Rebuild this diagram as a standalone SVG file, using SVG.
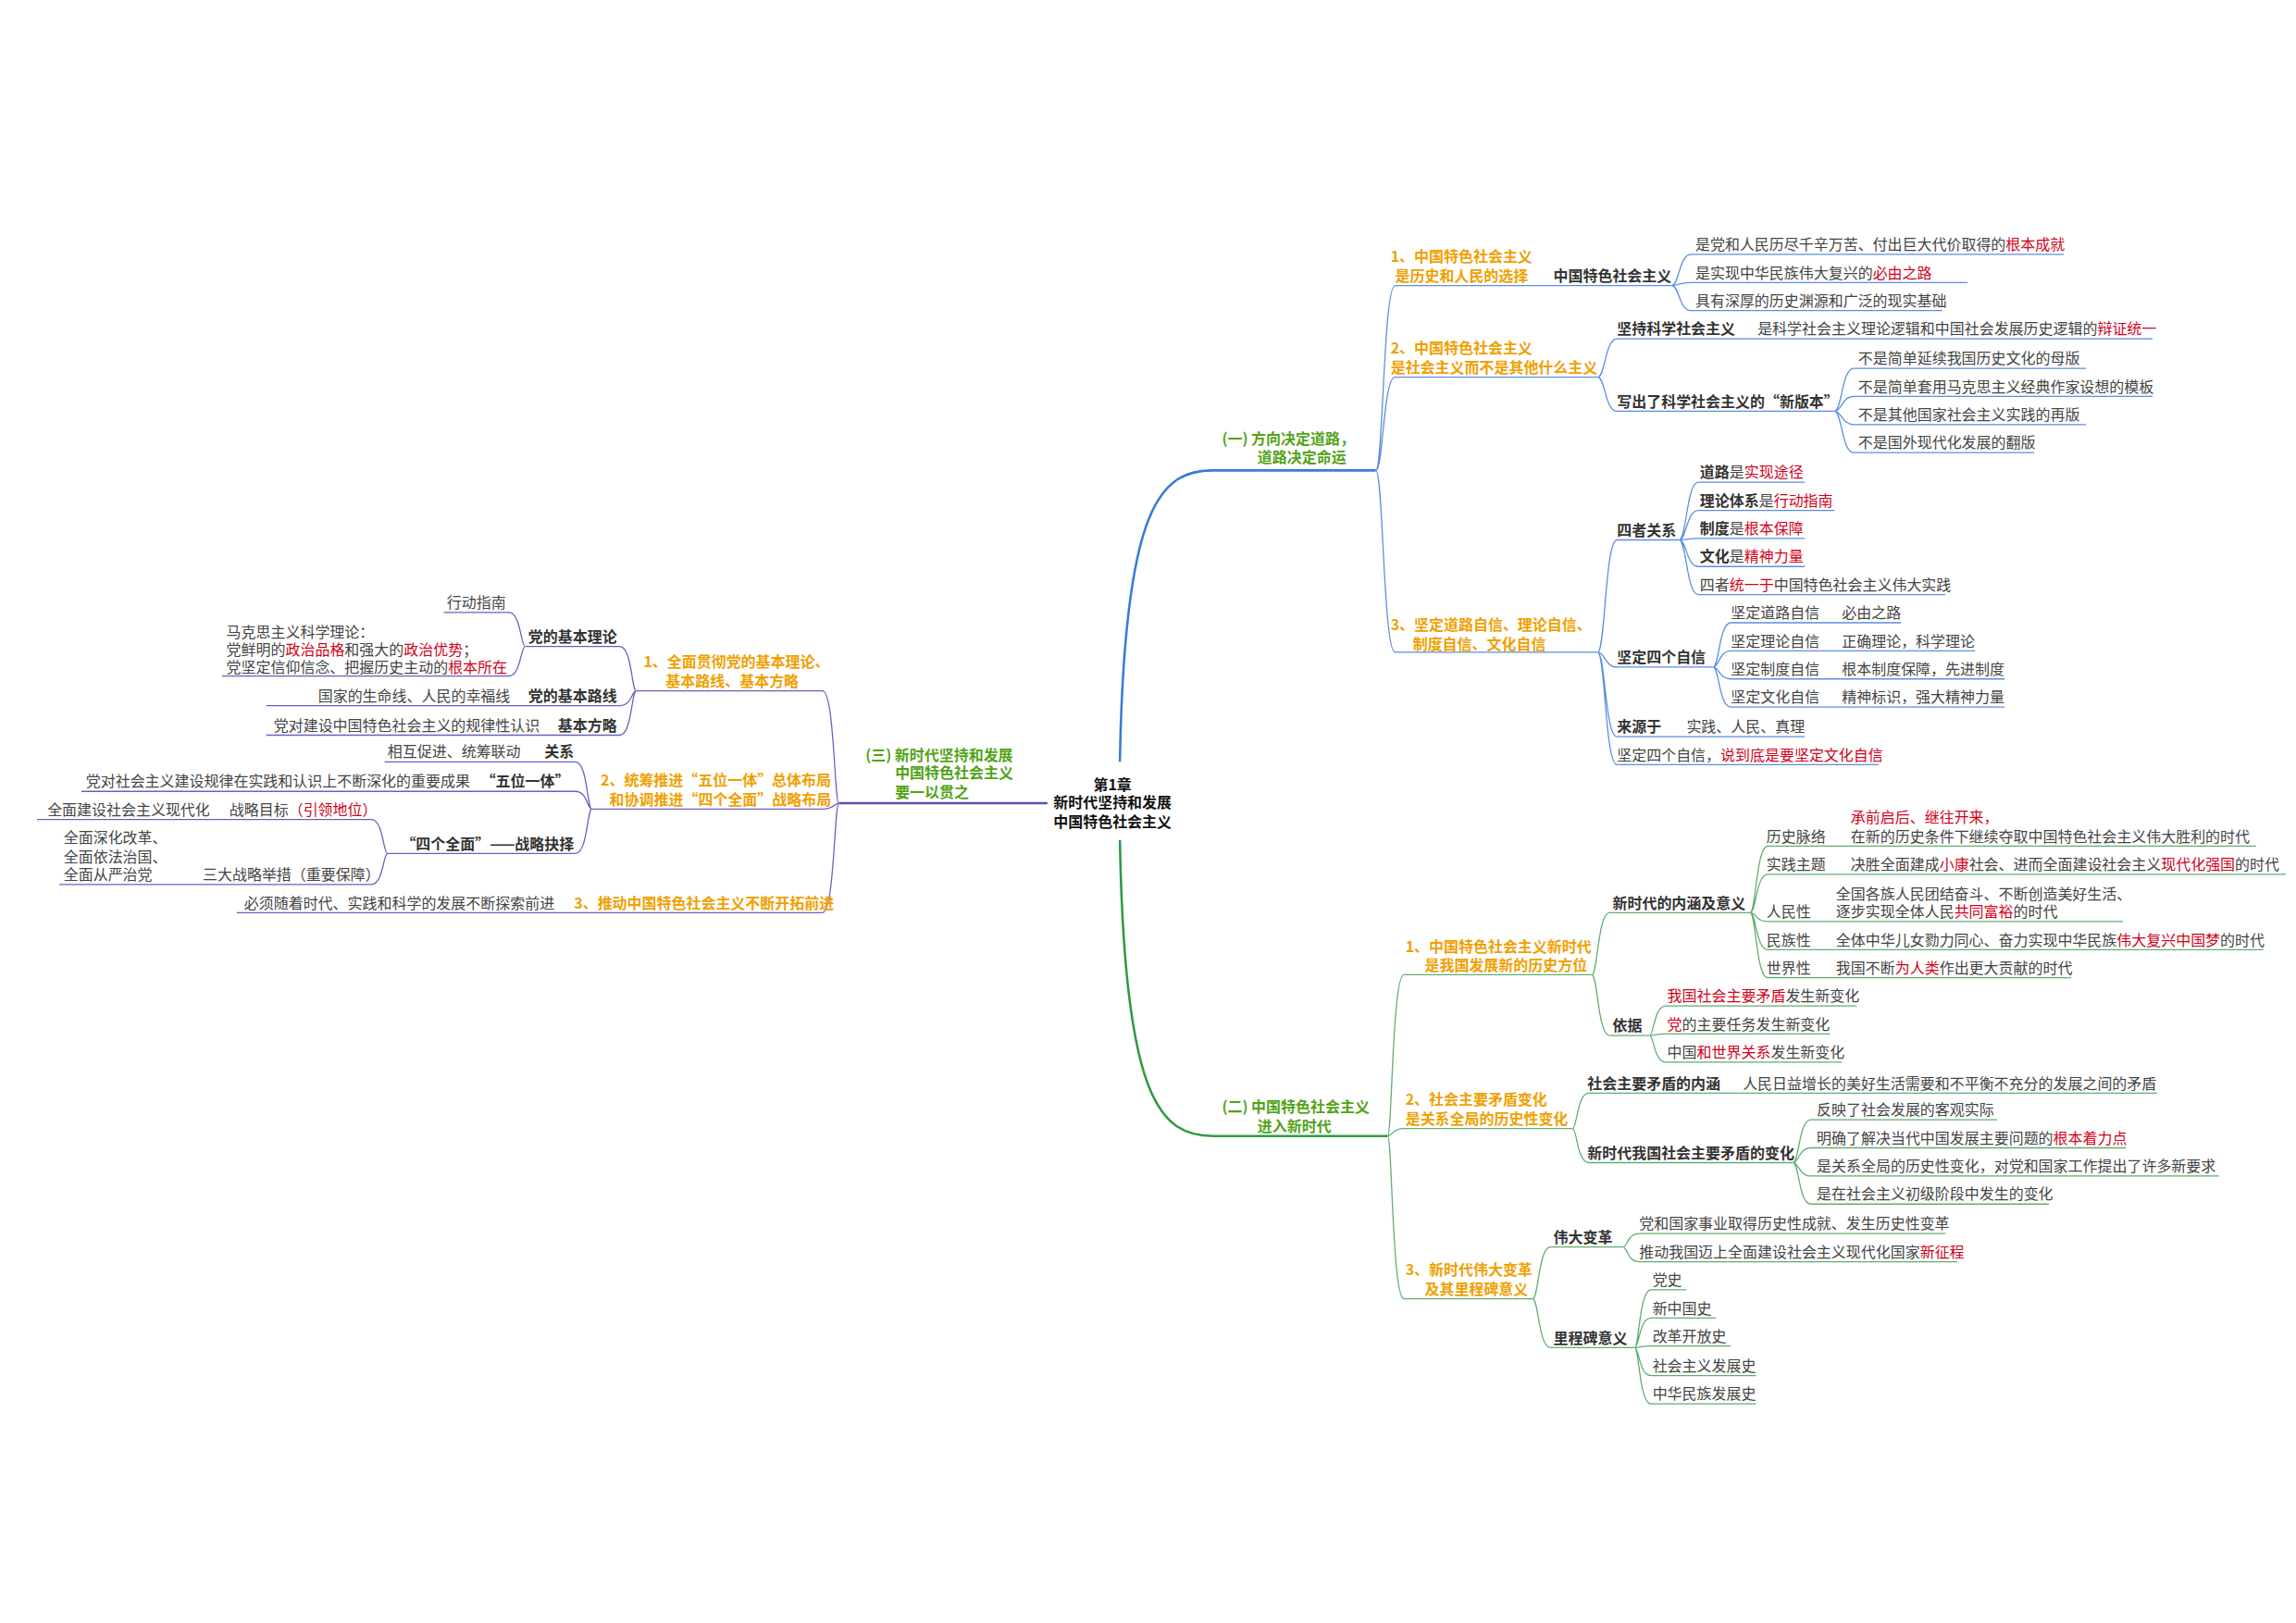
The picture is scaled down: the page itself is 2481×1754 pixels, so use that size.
<svg xmlns="http://www.w3.org/2000/svg" width="2481" height="1754" viewBox="0 0 2481 1754">
<style>
text{font-family:"Noto Sans CJK SC","Noto Sans",sans-serif;font-size:10px;fill:#444}
.b{font-weight:bold;fill:#333}
.o{font-weight:bold;fill:#f0a000}
.g{font-weight:bold;fill:#52a317}
.r{fill:#d0021b}
.c{font-weight:bold;fill:#111}
path{fill:none}
.m1{stroke:#3a7bd5;stroke-width:1.6}
.m2{stroke:#2f9a45;stroke-width:1.6}
.m3{stroke:#5b4fb5;stroke-width:1.6}
.l1{stroke:#5b8fe0;stroke-width:0.8}
.l2{stroke:#5fae72;stroke-width:0.8}
.l3{stroke:#6a5fc0;stroke-width:0.8}
</style>
<rect width="2481" height="1754" fill="#fff"/>
<g transform="scale(1.5986)">
<g id="connectors">
<path class="m1" d="M757,515C760,340 785,318 820,318H930"/>
<path class="m2" d="M757,568C760,745 785,768 820,768H938"/>
<path class="m3" d="M708,543H567"/>
<path class="l1" d="M930,318C935,318 935,193 943,193H1130M930,318C935,318 935,255 943,255H1080M930,318C935,318 935,441 943,441H1080"/>
<path class="l1" d="M1130,193C1135,193 1135,172 1143,172H1395M1130,193C1135,193 1135,191 1143,191H1330M1130,193C1135,193 1135,210 1143,210H1313"/>
<path class="l1" d="M1080,255C1085,255 1085,229 1093,229H1455M1080,255C1085,255 1085,278 1093,278H1240"/>
<path class="l1" d="M1240,278C1245,278 1245,249 1253,249H1410M1240,278C1245,278 1245,268 1253,268H1455M1240,278C1245,278 1245,287 1253,287H1410M1240,278C1245,278 1245,306 1253,306H1375"/>
<path class="l1" d="M1080,441C1085,441 1085,365 1093,365H1135M1080,441C1085,441 1085,451 1093,451H1158M1080,441C1085,441 1085,498 1093,498H1220M1080,441C1085,441 1085,517 1093,517H1270"/>
<path class="l1" d="M1135,365C1140,365 1140,326 1148,326H1220M1135,365C1140,365 1140,345 1148,345H1240M1135,365C1140,365 1140,364 1148,364H1220M1135,365C1140,365 1140,383 1148,383H1220M1135,365C1140,365 1140,402 1148,402H1315"/>
<path class="l1" d="M1158,451C1162,451 1162,421 1170,421H1285M1158,451C1162,451 1162,440 1170,440H1335M1158,451C1162,451 1162,459 1170,459H1355M1158,451C1162,451 1162,478 1170,478H1355"/>
<path class="l2" d="M938,768C941,768 941,659 949,659H1076M938,768C941,768 941,763 949,763H1063M938,768C941,768 941,878 949,878H1036"/>
<path class="l2" d="M1076,659C1080,659 1080,617 1088,617H1183M1076,659C1080,659 1080,700 1088,700H1115"/>
<path class="l2" d="M1183,617C1187,617 1187,572 1195,572H1525M1183,617C1187,617 1187,591 1195,591H1545M1183,617C1187,617 1187,623 1195,623H1435M1183,617C1187,617 1187,642 1195,642H1530M1183,617C1187,617 1187,661 1195,661H1400"/>
<path class="l2" d="M1115,700C1118,700 1118,680 1126,680H1255M1115,700C1118,700 1118,699 1126,699H1237M1115,700C1118,700 1118,718 1126,718H1245"/>
<path class="l2" d="M1063,763C1066,763 1066,739 1074,739H1458M1063,763C1066,763 1066,786 1074,786H1212"/>
<path class="l2" d="M1212,786C1216,786 1216,757 1224,757H1350M1212,786C1216,786 1216,776 1224,776H1437M1212,786C1216,786 1216,795 1224,795H1500M1212,786C1216,786 1216,814 1224,814H1385"/>
<path class="l2" d="M1036,878C1040,878 1040,843 1048,843H1097M1036,878C1040,878 1040,911 1048,911H1105"/>
<path class="l2" d="M1097,843C1100,843 1100,834 1108,834H1315M1097,843C1100,843 1100,853 1108,853H1323"/>
<path class="l2" d="M1105,911C1108,911 1108,872 1116,872H1140M1105,911C1108,911 1108,891 1116,891H1160M1105,911C1108,911 1108,910 1116,910H1170M1105,911C1108,911 1108,930 1116,930H1187M1105,911C1108,911 1108,949 1116,949H1187"/>
<path class="l3" d="M567,543C564,543 564,467 556,467H430M567,543C564,543 564,547 556,547H400M567,543C564,543 564,617 556,617H160"/>
<path class="l3" d="M430,467C427,467 427,437 419,437H355M430,467C427,467 427,477 419,477H180M430,467C427,467 427,497 419,497H180"/>
<path class="l3" d="M355,437C352,437 352,414 344,414H300M355,437C352,437 352,457 344,457H150"/>
<path class="l3" d="M400,547C397,547 397,515 389,515H260M400,547C397,547 397,535 389,535H55M400,547C397,547 397,577 389,577H262"/>
<path class="l3" d="M262,577C259,577 259,554 251,554H25M262,577C259,577 259,598 251,598H40"/>
</g>
<g id="center"><text class="c" x="752" y="534" text-anchor="middle">第1章</text><text class="c" x="752" y="546" text-anchor="middle">新时代坚持和发展</text><text class="c" x="752" y="559" text-anchor="middle">中国特色社会主义</text></g>
<g id="s1">
<text class="g" x="826" y="300">(一) 方向决定道路，</text><text class="g" x="850" y="313">道路决定命运</text>
<text class="o" x="940" y="177">1、中国特色社会主义</text><text class="o" x="943" y="190">是历史和人民的选择</text>
<text class="b" x="1050" y="190">中国特色社会主义</text>
<text x="1146" y="169">是党和人民历尽千辛万苦、付出巨大代价取得的<tspan class="r">根本成就</tspan></text>
<text x="1146" y="188">是实现中华民族伟大复兴的<tspan class="r">必由之路</tspan></text>
<text x="1146" y="207">具有深厚的历史渊源和广泛的现实基础</text>
<text class="o" x="940" y="239">2、中国特色社会主义</text><text class="o" x="940" y="252">是社会主义而不是其他什么主义</text>
<text class="b" x="1093" y="226">坚持科学社会主义</text>
<text x="1188" y="226">是科学社会主义理论逻辑和中国社会发展历史逻辑的<tspan class="r">辩证统一</tspan></text>
<text class="b" x="1093" y="275">写出了科学社会主义的“新版本”</text>
<text x="1256" y="246">不是简单延续我国历史文化的母版</text>
<text x="1256" y="265">不是简单套用马克思主义经典作家设想的模板</text>
<text x="1256" y="284">不是其他国家社会主义实践的再版</text>
<text x="1256" y="303">不是国外现代化发展的翻版</text>
<text class="o" x="940" y="426">3、坚定道路自信、理论自信、</text><text class="o" x="955" y="439">制度自信、文化自信</text>
<text class="b" x="1093" y="362">四者关系</text>
<text x="1149" y="323"><tspan class="b">道路</tspan>是<tspan class="r">实现途径</tspan></text>
<text x="1149" y="342"><tspan class="b">理论体系</tspan>是<tspan class="r">行动指南</tspan></text>
<text x="1149" y="361"><tspan class="b">制度</tspan>是<tspan class="r">根本保障</tspan></text>
<text x="1149" y="380"><tspan class="b">文化</tspan>是<tspan class="r">精神力量</tspan></text>
<text x="1149" y="399">四者<tspan class="r">统一于</tspan>中国特色社会主义伟大实践</text>
<text class="b" x="1093" y="448">坚定四个自信</text>
<text x="1170" y="418">坚定道路自信</text><text x="1245" y="418">必由之路</text>
<text x="1170" y="437">坚定理论自信</text><text x="1245" y="437">正确理论，科学理论</text>
<text x="1170" y="456">坚定制度自信</text><text x="1245" y="456">根本制度保障，先进制度</text>
<text x="1170" y="475">坚定文化自信</text><text x="1245" y="475">精神标识，强大精神力量</text>
<text class="b" x="1093" y="495">来源于</text><text x="1140" y="495">实践、人民、真理</text>
<text x="1093" y="514">坚定四个自信，<tspan class="r">说到底是要坚定文化自信</tspan></text>
</g>
<g id="s2">
<text class="g" x="826" y="752">(二) 中国特色社会主义</text><text class="g" x="850" y="765">进入新时代</text>
<text class="o" x="950" y="644">1、中国特色社会主义新时代</text><text class="o" x="963" y="656">是我国发展新的历史方位</text>
<text class="b" x="1090" y="614">新时代的内涵及意义</text>
<text x="1194" y="569">历史脉络</text><text class="r" x="1251" y="556">承前启后、继往开来，</text><text x="1251" y="569">在新的历史条件下继续夺取中国特色社会主义伟大胜利的时代</text>
<text x="1194" y="588">实践主题</text><text x="1251" y="588">决胜全面建成<tspan class="r">小康</tspan>社会、进而全面建设社会主义<tspan class="r">现代化强国</tspan>的时代</text>
<text x="1194" y="620">人民性</text><text x="1241" y="608">全国各族人民团结奋斗、不断创造美好生活、</text><text x="1241" y="620">逐步实现全体人民<tspan class="r">共同富裕</tspan>的时代</text>
<text x="1194" y="639">民族性</text><text x="1241" y="639">全体中华儿女勠力同心、奋力实现中华民族<tspan class="r">伟大复兴中国梦</tspan>的时代</text>
<text x="1194" y="658">世界性</text><text x="1241" y="658">我国不断<tspan class="r">为人类</tspan>作出更大贡献的时代</text>
<text class="b" x="1090" y="697">依据</text>
<text x="1127" y="677"><tspan class="r">我国社会主要矛盾</tspan>发生新变化</text>
<text x="1127" y="696"><tspan class="r">党</tspan>的主要任务发生新变化</text>
<text x="1127" y="715">中国<tspan class="r">和世界关系</tspan>发生新变化</text>
<text class="o" x="950" y="747">2、社会主要矛盾变化</text><text class="o" x="950" y="760">是关系全局的历史性变化</text>
<text class="b" x="1073" y="736">社会主要矛盾的内涵</text><text x="1178" y="736">人民日益增长的美好生活需要和不平衡不充分的发展之间的矛盾</text>
<text class="b" x="1073" y="783">新时代我国社会主要矛盾的变化</text>
<text x="1228" y="754">反映了社会发展的客观实际</text>
<text x="1228" y="773">明确了解决当代中国发展主要问题的<tspan class="r">根本着力点</tspan></text>
<text x="1228" y="792">是关系全局的历史性变化，对党和国家工作提出了许多新要求</text>
<text x="1228" y="811">是在社会主义初级阶段中发生的变化</text>
<text class="o" x="950" y="862">3、新时代伟大变革</text><text class="o" x="963" y="875">及其里程碑意义</text>
<text class="b" x="1050" y="840">伟大变革</text>
<text x="1108" y="831">党和国家事业取得历史性成就、发生历史性变革</text>
<text x="1108" y="850">推动我国迈上全面建设社会主义现代化国家<tspan class="r">新征程</tspan></text>
<text class="b" x="1050" y="908">里程碑意义</text>
<text x="1117" y="869">党史</text><text x="1117" y="888">新中国史</text><text x="1117" y="907">改革开放史</text><text x="1117" y="927">社会主义发展史</text><text x="1117" y="946">中华民族发展史</text>
</g>
<g id="s3">
<text class="g" x="585" y="514">(三) 新时代坚持和发展</text><text class="g" x="605" y="526">中国特色社会主义</text><text class="g" x="605" y="539">要一以贯之</text>
<text class="o" x="435" y="451">1、全面贯彻党的基本理论、</text><text class="o" x="450" y="464">基本路线、基本方略</text>
<text class="b" x="417" y="434" text-anchor="end">党的基本理论</text>
<text x="302" y="411">行动指南</text>
<text x="153" y="431">马克思主义科学理论：</text>
<text x="153" y="443">党鲜明的<tspan class="r">政治品格</tspan>和强大的<tspan class="r">政治优势</tspan>；</text>
<text x="153" y="455">党坚定信仰信念、把握历史主动的<tspan class="r">根本所在</tspan></text>
<text x="215" y="474">国家的生命线、人民的幸福线</text><text class="b" x="417" y="474" text-anchor="end">党的基本路线</text>
<text x="185" y="494">党对建设中国特色社会主义的规律性认识</text><text class="b" x="417" y="494" text-anchor="end">基本方略</text>
<text class="o" x="406" y="531">2、统筹推进“五位一体”总体布局</text><text class="o" x="412" y="544">和协调推进“四个全面”战略布局</text>
<text x="262" y="512">相互促进、统筹联动</text><text class="b" x="388" y="512" text-anchor="end">关系</text>
<text x="58" y="532">党对社会主义建设规律在实践和认识上不断深化的重要成果</text><text class="b" x="385" y="532" text-anchor="end">“五位一体”</text>
<text class="b" x="388" y="574" text-anchor="end">“四个全面”——战略抉择</text>
<text x="32" y="551">全面建设社会主义现代化</text><text x="155" y="551">战略目标<tspan class="r">（引领地位）</tspan></text>
<text x="43" y="570">全面深化改革、</text><text x="43" y="583">全面依法治国、</text><text x="43" y="595">全面从严治党</text><text x="137" y="595">三大战略举措（重要保障）</text>
<text x="165" y="614">必须随着时代、实践和科学的发展不断探索前进</text><text class="o" x="388" y="614">3、推动中国特色社会主义不断开拓前进</text>
</g>
</g>
</svg>
